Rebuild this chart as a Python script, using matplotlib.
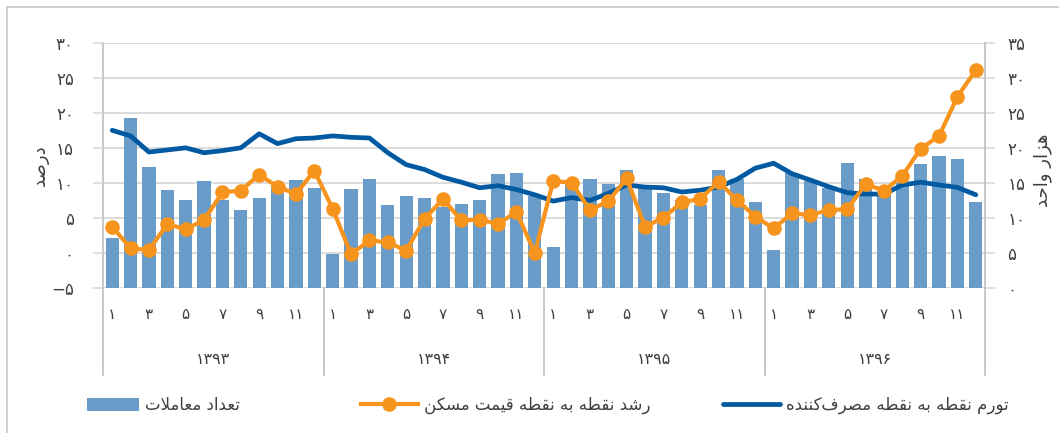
import numpy as np
import matplotlib
matplotlib.use('Agg')
from matplotlib import pyplot as plt
from matplotlib.lines import Line2D
from matplotlib.patches import Patch
import matplotlib.transforms as mtransforms

years = ['1393', '1394', '1395', '1396']
month_ticks = [1, 3, 5, 7, 9, 11]

# number of transactions, thousand units (right axis)
transactions = [7.2, 24.2, 17.3, 14.0, 12.6, 15.2, 12.6, 11.2, 12.8, 14.6, 15.4, 14.2,
                4.9, 14.1, 15.6, 11.8, 13.1, 12.8, 11.6, 12.0, 12.6, 16.2, 16.4, 13.1,
                5.9, 15.0, 15.5, 14.9, 16.9, 14.5, 13.5, 12.5, 11.8, 16.8, 15.6, 12.2,
                5.4, 16.4, 15.2, 14.2, 17.9, 15.5, 13.6, 15.0, 17.7, 18.9, 18.4, 12.3]
# housing price growth, point to point, percent (left axis)
price_growth = [3.75, 0.66, 0.42, 4.13, 3.37, 4.70, 8.65, 8.89, 11.17, 9.46, 8.41, 11.74,
                6.3, -0.2, 1.8, 1.5, 0.35, 4.85, 7.7, 4.65, 4.75, 4.15, 5.85, 0.0,
                10.27, 10.03, 6.13, 7.37, 10.65, 3.75, 5.04, 7.22, 7.70, 10.17, 7.56, 5.18,
                3.51, 5.65, 5.42, 6.13, 6.22, 9.84, 8.89, 10.98, 14.88, 16.69, 22.3, 26.1]
# CPI inflation, point to point, percent (left axis)
cpi_inflation = [17.5, 16.7, 14.4, 14.7, 15.0, 14.3, 14.6, 15.0, 17.0, 15.6, 16.3, 16.4,
                 16.7, 16.5, 16.4, 14.3, 12.6, 11.9, 10.8, 10.1, 9.3, 9.6, 9.05, 8.3,
                 7.4, 7.9, 7.5, 8.5, 9.7, 9.4, 9.3, 8.7, 8.95, 9.4, 10.5, 12.1,
                 12.8, 11.3, 10.4, 9.45, 8.6, 8.4, 8.4, 9.7, 10.1, 9.7, 9.35, 8.3]

label_left = 'درصد'
label_right = 'هزار واحد'
legend_bars = 'تعداد معاملات'
legend_price = 'رشد نقطه به نقطه قیمت مسکن'
legend_cpi = 'تورم نقطه به نقطه مصرف\u200cکننده'

BAR = '#6A9CC9'
ORANGE = '#F7941D'
BLUE = '#0059A1'
GRID = '#D9D9D9'
AXIS = '#BFBFBF'
TEXT = '#404040'

# matplotlib does no arabic shaping, so pick the joined forms by hand
FORMS = {
    'ا': ('\ufe8d', '\ufe8e', None, None),
    'ب': ('\ufe8f', '\ufe90', '\ufe91', '\ufe92'),
    'ت': ('\ufe95', '\ufe96', '\ufe97', '\ufe98'),
    'ح': ('\ufea1', '\ufea2', '\ufea3', '\ufea4'),
    'د': ('\ufea9', '\ufeaa', None, None),
    'ر': ('\ufead', '\ufeae', None, None),
    'ز': ('\ufeaf', '\ufeb0', None, None),
    'س': ('\ufeb1', '\ufeb2', '\ufeb3', '\ufeb4'),
    'ش': ('\ufeb5', '\ufeb6', '\ufeb7', '\ufeb8'),
    'ص': ('\ufeb9', '\ufeba', '\ufebb', '\ufebc'),
    'ط': ('\ufec1', '\ufec2', '\ufec3', '\ufec4'),
    'ع': ('\ufec9', '\ufeca', '\ufecb', '\ufecc'),
    'ف': ('\ufed1', '\ufed2', '\ufed3', '\ufed4'),
    'ق': ('\ufed5', '\ufed6', '\ufed7', '\ufed8'),
    'ک': ('\ufb8e', '\ufb8f', '\ufb90', '\ufb91'),
    'ل': ('\ufedd', '\ufede', '\ufedf', '\ufee0'),
    'م': ('\ufee1', '\ufee2', '\ufee3', '\ufee4'),
    'ن': ('\ufee5', '\ufee6', '\ufee7', '\ufee8'),
    'ه': ('\ufee9', '\ufeea', '\ufeeb', '\ufeec'),
    'و': ('\ufeed', '\ufeee', None, None),
    'ی': ('\ufbfc', '\ufbfd', '\ufef3', '\ufef4'),
}


def shape(text):
    out = []
    i = 0
    n = len(text)
    while i < n:
        c = text[i]
        if c not in FORMS:
            if c != '\u200c':
                out.append(c)
            i += 1
            continue
        prev = text[i - 1] if i > 0 else ''
        join_prev = prev in FORMS and FORMS[prev][2] is not None
        if c == 'ل' and i + 1 < n and text[i + 1] == 'ا':
            out.append('\ufefc' if join_prev else '\ufefb')
            i += 2
            continue
        nxt = text[i + 1] if i + 1 < n else ''
        iso, fin, ini, med = FORMS[c]
        join_next = ini is not None and nxt in FORMS
        if join_prev and join_next:
            out.append(med)
        elif join_prev:
            out.append(fin)
        elif join_next:
            out.append(ini)
        else:
            out.append(iso)
        i += 1
    return ''.join(reversed(out))


def fa(v):
    s = str(v).replace('-', '\u2212')
    return s.translate(str.maketrans('0123456789', '۰۱۲۳۴۵۶۷۸۹'))


plt.rcParams['font.family'] = ['DejaVu Sans']

W, H = 1059, 433
fig = plt.figure(figsize=(W / 100, H / 100), dpi=100)
ax = fig.add_axes([103 / W, 145 / H, 882 / W, 245.3 / H])
ax2 = ax.twinx()
x = np.arange(len(transactions))

# bars on the right axis (thousand units)
ax.bar(x, transactions, width=0.72, color=BAR, zorder=2)
ax.set_xlim(-0.5, len(x) - 0.5)
ax.set_ylim(0, 35)
ax.yaxis.tick_right()
ax.set_yticks(range(0, 36, 5))
ax.set_yticklabels([fa(v) for v in range(0, 36, 5)])
ax.tick_params(axis='y', length=7, color=GRID, width=1.2, pad=9,
               labelsize=12, labelcolor=TEXT)
ax.set_xticks([])
ax.grid(axis='y', color=GRID, lw=1.3)
ax.set_axisbelow(True)
for s in ['top', 'bottom']:
    ax.spines[s].set_visible(False)
for s in ['left', 'right']:
    ax.spines[s].set_color(AXIS)
    ax.spines[s].set_linewidth(1.2)

# lines on the left axis (percent)
ax2.set_ylim(-5, 30)
ax2.yaxis.tick_left()
ax2.set_yticks(range(-5, 31, 5))
ax2.set_yticklabels([fa(v) for v in range(-5, 31, 5)])
ax2.tick_params(axis='y', length=7, color=GRID, width=1.2, pad=14,
                labelsize=12, labelcolor=TEXT)
for s in ax2.spines.values():
    s.set_visible(False)
ax2.plot(x, cpi_inflation, color=BLUE, lw=3.4, solid_joinstyle='round',
         solid_capstyle='round', zorder=3)
ax2.plot(x, price_growth, color=ORANGE, lw=3.0, marker='o', ms=9.5,
         solid_joinstyle='round', zorder=4)

# category axis: months and years
trans = mtransforms.blended_transform_factory(ax.transData, ax.transAxes)
for k, yr in enumerate(years):
    for m in month_ticks:
        ax.text(k * 12 + m - 1, -0.11, fa(m), transform=trans, ha='center',
                va='center', fontsize=11, color=TEXT)
    ax.text(k * 12 + 5.5, -0.293, fa(yr), transform=trans, ha='center',
            va='center', fontsize=11.5, color=TEXT)
for b in np.arange(len(years) + 1) * 12 - 0.5:
    ax.plot([b, b], [0, -0.355], transform=trans, color=AXIS, lw=1.2,
            clip_on=False)

fig.text(40 / W, 1 - 165 / H, shape(label_left), rotation=90, ha='center',
         va='center', fontsize=13, color=TEXT)
fig.text(1043 / W, 1 - 170 / H, shape(label_right), rotation=90, ha='center',
         va='center', fontsize=13, color=TEXT)

# legend, three separate entries spread like the original
entries = [
    (Patch(facecolor=BAR), legend_bars, 87, 3.1),
    (Line2D([], [], color=ORANGE, lw=3.0, marker='o', ms=9.5), legend_price, 361, 3.4),
    (Line2D([], [], color=BLUE, lw=3.4, solid_capstyle='round'), legend_cpi, 723, 3.4),
]
for h, lab, xpos, hl in entries:
    fig.legend([h], [shape(lab)], loc='center left',
               bbox_to_anchor=(xpos / W, 1 - 405 / H), frameon=False,
               borderpad=0, borderaxespad=0, handlelength=hl,
               handleheight=0.8, handletextpad=0.4, fontsize=12,
               labelcolor=TEXT)

# outer frame, cut at right and bottom as in the original
fig.add_artist(Line2D([7 / W, 1], [1 - 7 / H, 1 - 7 / H], color='#C8C8C8',
                      lw=1.2, transform=fig.transFigure))
fig.add_artist(Line2D([7 / W, 7 / W], [0, 1 - 7 / H], color='#C8C8C8',
                      lw=1.2, transform=fig.transFigure))

fig.savefig('out.png', dpi=100)
